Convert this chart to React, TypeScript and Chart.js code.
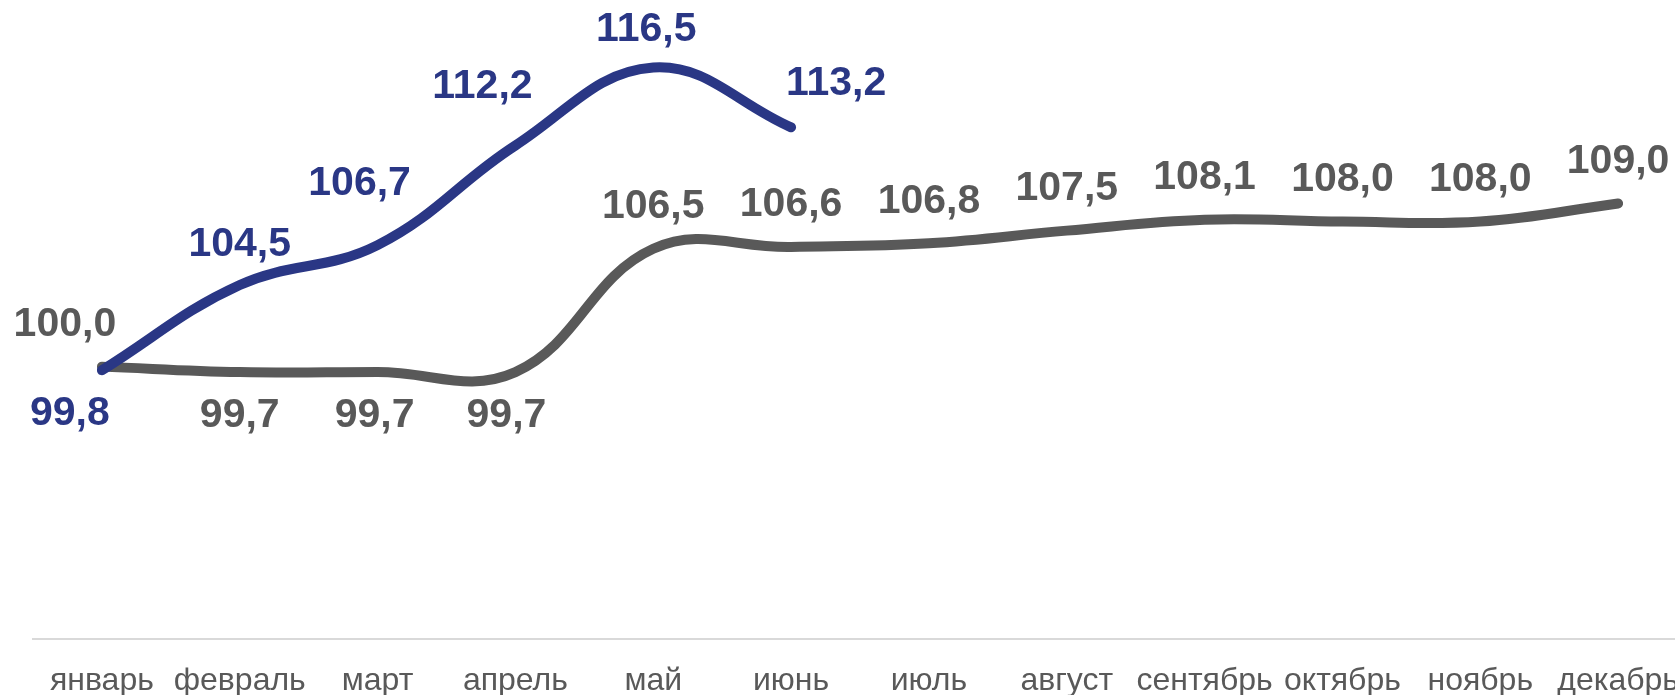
import React, { useEffect, useRef } from "react";
import { Chart, registerables } from "chart.js";

Chart.register(...registerables);

const months = ["январь", "февраль", "март", "апрель", "май", "июнь", "июль", "август", "сентябрь", "октябрь", "ноябрь", "декабрь"];
const seriesBlue = [99.8, 104.5, 106.7, 112.2, 116.5, 113.2, null, null, null, null, null, null];
const seriesGray = [100.0, 99.7, 99.7, 99.7, 106.5, 106.6, 106.8, 107.5, 108.1, 108.0, 108.0, 109.0];

const BLUE = "#2A3785";
const GRAY = "#595959";

// label offsets relative to each point (dx, dy)
const blueLabelOffsets = [[-32, 43], [0, -40], [-18, -61], [-33, -59], [-7, -38], [45, -44]];
const grayLabelOffsets = [[-37, -42], [0, 44], [-3, 44], [-9, 44], [0, -42], [0, -42], [0, -42], [0, -42], [0, -42], [0, -42], [0, -42], [0, -42]];

const fmt = (v: number) => v.toFixed(1).replace(".", ",");

const labelPlugin = {
  id: "pointLabels",
  afterDatasetsDraw(chart: any) {
    const ctx = chart.ctx;
    ctx.save();
    ctx.font = "bold 41px 'Liberation Sans', Arial, sans-serif";
    ctx.textAlign = "center";
    ctx.textBaseline = "middle";
    chart.data.datasets.forEach((ds: any, di: number) => {
      const meta = chart.getDatasetMeta(di);
      const offs = di === 0 ? blueLabelOffsets : grayLabelOffsets;
      ctx.fillStyle = ds.borderColor;
      meta.data.forEach((pt: any, i: number) => {
        const v = ds.data[i];
        if (v === null || v === undefined || !offs[i]) return;
        ctx.fillText(fmt(v), pt.x + offs[i][0], pt.y + offs[i][1]);
      });
    });
    ctx.restore();
  },
};

export default function App() {
  const ref = useRef<HTMLCanvasElement>(null);
  useEffect(() => {
    if (!ref.current) return;
    const chart = new Chart(ref.current, {
      type: "line",
      data: {
        labels: months,
        datasets: [
          {
            data: seriesBlue,
            borderColor: BLUE,
            borderWidth: 10,
            tension: 0.4,
            pointRadius: 0,
            borderCapStyle: "round",
            spanGaps: false,
          },
          {
            data: seriesGray,
            borderColor: GRAY,
            borderWidth: 10,
            tension: 0.4,
            pointRadius: 0,
            borderCapStyle: "round",
          },
        ],
      },
      options: {
        responsive: false,
        animation: false,
        layout: { padding: { left: 33, right: 0, top: 4, bottom: 0 } },
        plugins: { legend: { display: false }, tooltip: { enabled: false } },
        scales: {
          y: { display: false, min: 85, max: 120 },
          x: {
            offset: true,
            grid: { display: false, drawTicks: false },
            border: { display: true, color: "#D9D9D9", width: 2 },
            ticks: {
              color: GRAY,
              padding: 23,
              maxRotation: 0,
              autoSkip: false,
              font: { family: "'Liberation Sans', Arial, sans-serif", size: 32 },
            },
          },
        },
      },
      plugins: [labelPlugin],
    } as any);
    return () => chart.destroy();
  }, []);
  return (
    <div style={{ position: "fixed", left: 0, top: 0, width: 1675, height: 695, overflow: "hidden", background: "#fff" }}>
      <div style={{ width: 1702, height: 723 }}>
        <canvas ref={ref} width={1702} height={723} style={{ width: 1702, height: 723, display: "block" }} />
      </div>
    </div>
  );
}
